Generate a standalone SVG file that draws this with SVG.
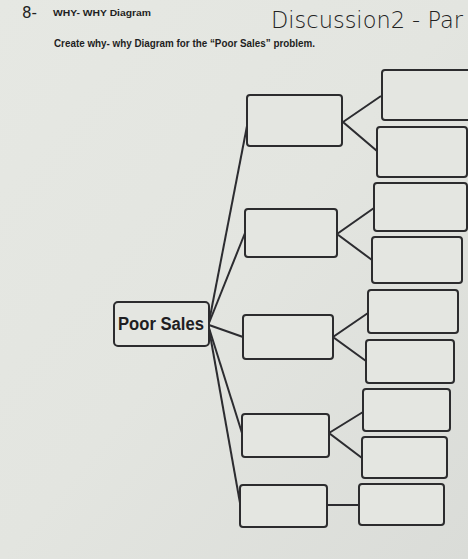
<svg xmlns="http://www.w3.org/2000/svg" width="468" height="559" viewBox="0 0 468 559">
<defs>
<linearGradient id="bg" x1="0" y1="0" x2="1" y2="1">
<stop offset="0" stop-color="#e6e8e3"/>
<stop offset="0.5" stop-color="#e3e5e0"/>
<stop offset="1" stop-color="#dadcd8"/>
</linearGradient>
</defs>
<style>
.box{fill:#e4e6e1;stroke:#2c2c2e;stroke-width:2;}
.ln{stroke:#2c2c30;stroke-width:2;fill:none;}
.hd{font-family:"Liberation Sans",Arial,sans-serif;font-weight:bold;fill:#1e1e22;}
.hw{font-family:"DejaVu Sans","Liberation Sans",sans-serif;fill:#222;}
</style>
<rect width="468" height="559" fill="url(#bg)"/>
<g id="header">
<text class="hw" x="22" y="18" font-size="15">8-</text>
<text class="hd" x="53" y="16" font-size="9.5" textLength="98" lengthAdjust="spacingAndGlyphs">WHY- WHY Diagram</text>
<text class="hw" transform="translate(271,28) scale(1,1.3)" x="0" y="0" font-size="18" font-weight="200" textLength="192" lengthAdjust="spacingAndGlyphs">Discussion2 - Par</text>
<text class="hd" x="54" y="47" font-size="10" textLength="261" lengthAdjust="spacingAndGlyphs">Create why- why Diagram for the “Poor Sales” problem.</text>
</g>
<g id="connectors">
<line class="ln" x1="209" y1="322" x2="247" y2="126"/>
<line class="ln" x1="209" y1="323" x2="245" y2="233"/>
<line class="ln" x1="209" y1="325" x2="243" y2="337"/>
<line class="ln" x1="209" y1="328" x2="242" y2="433"/>
<line class="ln" x1="209" y1="329" x2="240" y2="503"/>
<polyline class="ln" points="381,96 343,122 377,151"/>
<polyline class="ln" points="374,208 337,234 372,260"/>
<polyline class="ln" points="368,313 333,337 366,361"/>
<polyline class="ln" points="363,412 329,433 362,458"/>
<line class="ln" x1="327" y1="505" x2="359" y2="505"/>
</g>
<g id="poor-sales">
<rect class="box" x="114" y="302" width="95" height="44" rx="4"/>
<text class="hd" x="161" y="330" font-size="18" text-anchor="middle" textLength="86" lengthAdjust="spacingAndGlyphs" fill="#2a2a32">Poor Sales</text>
</g>
<g id="a1"><rect class="box" x="247" y="95" width="95" height="51" rx="3"/></g>
<g id="a2"><rect class="box" x="245" y="209" width="92" height="48" rx="3"/></g>
<g id="a3"><rect class="box" x="243" y="315" width="90" height="44" rx="3"/></g>
<g id="a4"><rect class="box" x="242" y="414" width="87" height="43" rx="3"/></g>
<g id="a5"><rect class="box" x="240" y="485" width="87" height="42" rx="3"/></g>
<g id="r1"><rect class="box" x="382" y="70" width="95" height="50" rx="3"/></g>
<g id="r2"><rect class="box" x="377" y="127" width="90" height="50" rx="3"/></g>
<g id="r3"><rect class="box" x="374" y="183" width="93" height="48" rx="3"/></g>
<g id="r4"><rect class="box" x="372" y="237" width="90" height="46" rx="3"/></g>
<g id="r5"><rect class="box" x="368" y="290" width="90" height="43" rx="3"/></g>
<g id="r6"><rect class="box" x="366" y="340" width="88" height="43" rx="3"/></g>
<g id="r7"><rect class="box" x="363" y="389" width="87" height="42" rx="3"/></g>
<g id="r8"><rect class="box" x="362" y="437" width="85" height="41" rx="3"/></g>
<g id="r9"><rect class="box" x="359" y="484" width="85" height="41" rx="3"/></g>
</svg>
